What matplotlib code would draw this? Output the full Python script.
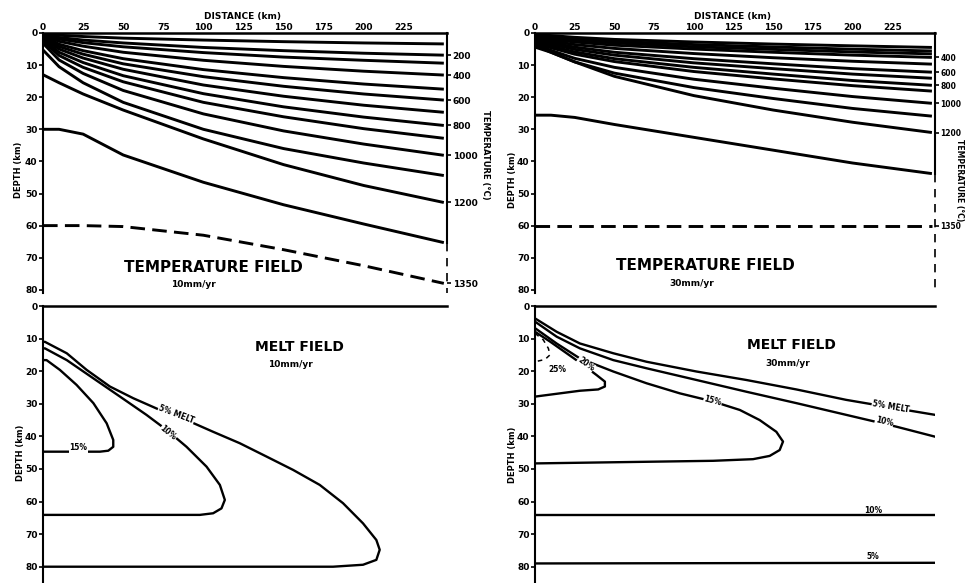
import matplotlib.pyplot as plt

plt.rcParams['font.family'] = ['DejaVu Sans']
plt.rcParams['font.weight'] = 'bold'

# distance from ridge axis (km) where isotherm depths were read
dist_km = [0, 10, 25, 50, 100, 150, 200, 250]
iso_temps = [100, 200, 300, 400, 500, 600, 700, 800, 900, 1000, 1100, 1200, 1300]

# isotherm depths (km), 10 mm/yr
iso_10 = [
    [0.2, 0.7, 1.1, 1.6, 2.2, 2.7, 3.1, 3.4],
    [0.4, 1.4, 2.2, 3.1, 4.5, 5.5, 6.3, 6.9],
    [0.6, 1.9, 3.0, 4.3, 6.1, 7.5, 8.5, 9.4],
    [0.8, 2.6, 4.1, 6.0, 8.5, 10.4, 11.9, 13.1],
    [1.0, 3.5, 5.5, 8.0, 11.4, 13.9, 15.9, 17.5],
    [1.3, 4.2, 6.6, 9.6, 13.6, 16.6, 19.0, 20.9],
    [1.6, 5.0, 7.8, 11.3, 16.2, 19.7, 22.5, 24.7],
    [2.0, 6.0, 9.2, 13.3, 18.9, 23.0, 26.2, 28.8],
    [2.5, 7.0, 10.7, 15.2, 21.6, 26.1, 29.8, 32.8],
    [3.2, 8.4, 12.6, 17.9, 25.2, 30.5, 34.6, 38.1],
    [5.3, 10.5, 15.5, 21.6, 30.0, 36.0, 40.5, 44.4],
    [13.0, 15.5, 19.0, 24.0, 33.0, 41.0, 47.5, 52.8],
    [30.0, 30.0, 31.5, 38.0, 46.5, 53.5, 59.5, 65.3],
]
solidus_10 = [60.0, 60.0, 60.0, 60.3, 63.0, 67.5, 72.5, 78.0]

# isotherm depths (km), 30 mm/yr
iso_30 = [
    [0.3, 0.8, 1.35, 2.0, 2.8, 3.45, 4.0, 4.5],
    [0.6, 1.2, 1.85, 2.6, 3.6, 4.35, 5.05, 5.6],
    [0.9, 1.6, 2.3, 3.1, 4.3, 5.1, 5.9, 6.5],
    [1.2, 2.0, 2.8, 3.8, 5.0, 6.0, 6.9, 7.6],
    [1.5, 2.5, 3.6, 4.8, 6.4, 7.7, 8.8, 9.7],
    [1.8, 3.0, 4.4, 6.0, 8.0, 9.6, 11.1, 12.2],
    [2.1, 3.5, 5.1, 6.9, 9.3, 11.1, 12.8, 14.1],
    [2.4, 4.1, 5.9, 8.0, 10.7, 12.8, 14.8, 16.3],
    [2.8, 4.6, 6.6, 8.9, 12.0, 14.3, 16.4, 18.1],
    [3.2, 5.4, 7.9, 10.7, 14.4, 17.2, 19.8, 21.9],
    [3.8, 6.0, 9.0, 12.5, 17.0, 20.4, 23.5, 25.9],
    [4.4, 6.0, 9.0, 13.5, 19.5, 24.0, 27.8, 31.0],
    [25.6, 25.6, 26.3, 28.5, 32.5, 36.5, 40.5, 43.8],
]
solidus_30 = [60.0, 60.0, 60.0, 60.0, 60.0, 60.0, 60.0, 60.0]

label_temps_10 = [200, 400, 600, 800, 1000, 1200]
label_temps_30 = [400, 600, 800, 1000, 1200]

# melt contours (distance km, depth km), 10 mm/yr
melt10_5 = [(0, 11.0), (1.2, 11.0), (14.8, 14.5), (27.2, 19.6), (41.7, 24.7), (56.3, 28.3),
            (72.9, 31.9), (89.5, 35.0), (106.1, 38.6), (122.7, 42.1), (139.4, 46.2),
            (156.0, 50.3), (172.6, 54.9), (187.1, 60.5), (199.6, 66.7), (207.9, 71.8),
            (210.0, 74.8), (207.9, 77.9), (199.6, 79.4), (180.9, 80.0), (0, 80.0)]
melt10_10 = [(0, 13.0), (1.2, 13.0), (14.8, 16.6), (31.4, 22.2), (48.0, 27.8), (64.5, 33.4),
             (77.0, 38.0), (89.5, 43.2), (102.0, 49.3), (110.3, 54.9), (113.4, 59.5),
             (111.3, 62.1), (106.1, 63.6), (97.8, 64.1), (0, 64.1)]
melt10_15 = [(0, 16.6), (2.2, 16.6), (10.5, 19.6), (20.9, 24.2), (31.4, 29.8), (39.7, 36.0),
             (43.8, 41.1), (43.8, 43.2), (40.7, 44.4), (35.5, 44.7), (0, 44.7)]

# melt contours, 30 mm/yr
melt30_5 = [(0, 3.8), (13.6, 7.9), (28.3, 11.5), (49.3, 14.5), (70.2, 17.1), (101.7, 20.1),
            (133.1, 22.7), (164.6, 25.6), (196.0, 28.8), (227.4, 31.4), (252.0, 33.4)]
melt30_10 = [(0, 4.8), (13.6, 9.4), (28.3, 13.0), (49.3, 16.6), (70.2, 19.1), (101.7, 22.7),
             (133.1, 26.3), (164.6, 29.8), (196.0, 33.4), (227.4, 37.0), (252.0, 40.1)]
melt30_15 = [(0, 6.8), (13.6, 11.5), (28.3, 16.1), (49.3, 20.1), (70.2, 23.7), (91.2, 26.8),
             (112.2, 29.3), (129.0, 31.9), (141.5, 35.0), (152.0, 38.6), (156.2, 41.6),
             (154.1, 44.2), (147.8, 46.0), (137.3, 47.0), (112.2, 47.5), (0, 48.3)]
melt30_20 = [(0, 7.9), (9.4, 10.9), (19.9, 14.5), (30.4, 18.1), (38.8, 21.2), (44.0, 23.2),
             (44.0, 24.7), (39.8, 25.6), (28.3, 26.0), (0, 27.8)]
melt30_25 = [(0, 8.4), (5.2, 10.4), (8.4, 13.0), (9.4, 15.0), (6.3, 16.4), (0, 17.1)]
melt30_10_base = [(0, 64.0), (252.0, 64.0)]
melt30_5_base = [(0, 79.0), (252.0, 78.8)]

xticks = [0, 25, 50, 75, 100, 125, 150, 175, 200, 225]
yticks = [0, 10, 20, 30, 40, 50, 60, 70, 80]
XMAX = 252

fig = plt.figure(figsize=(9.67, 5.83), dpi=100)
ax_tl = fig.add_axes([0.0445, 0.4974, 0.4178, 0.446])
ax_tr = fig.add_axes([0.5533, 0.4974, 0.4137, 0.446])
ax_bl = fig.add_axes([0.0445, 0.0, 0.4178, 0.4751])
ax_br = fig.add_axes([0.5533, 0.0, 0.4137, 0.4751])

TICKFS = 6.5


def temp_panel(ax, iso, solidus, label_temps, rate, tx, ty, sx, sy, rfs):
    for z in iso:
        ax.plot(dist_km, z, color='k', lw=2.1, solid_capstyle='butt')
    ax.plot(dist_km, solidus, color='k', lw=2.1, dashes=(5, 2.5))
    ax.set_xlim(0, XMAX)
    ax.set_ylim(81, 0)
    ax.xaxis.tick_top()
    ax.set_xticks(xticks)
    ax.set_xticklabels([str(v) for v in xticks], fontsize=TICKFS)
    ax.tick_params(axis='x', length=0, pad=1)
    ax.set_yticks(yticks)
    ax.set_yticklabels([str(v) for v in yticks], fontsize=TICKFS)
    ax.tick_params(axis='y', length=3, width=1.2, pad=1)
    for s in ['bottom', 'right']:
        ax.spines[s].set_visible(False)
    ax.spines['top'].set_linewidth(1.8)
    ax.spines['left'].set_linewidth(1.5)
    # right border: solid above the deepest solid isotherm, broken below
    z_end = iso[-1][-1]
    ax.plot([XMAX, XMAX], [0, z_end], color='k', lw=1.5, clip_on=False)
    ax.plot([XMAX, XMAX], [z_end, 81], color='k', lw=1.2, dashes=(5, 4), clip_on=False)

    ax2 = ax.twinx()
    ax2.set_ylim(81, 0)
    ends = [iso[iso_temps.index(t)][-1] for t in label_temps] + [solidus[-1]]
    ax2.set_yticks(ends)
    ax2.set_yticklabels([str(t) for t in label_temps] + ['1350'], fontsize=rfs)
    ax2.tick_params(axis='y', length=3, width=1.2, pad=1)
    for s in ax2.spines.values():
        s.set_visible(False)

    ax.text(tx, ty, 'TEMPERATURE FIELD', fontsize=11, ha='center', va='center')
    ax.text(sx, sy, rate, fontsize=6.5, ha='center', va='center')


def melt_panel(ax, curves, rate, tx, ty, sx, sy):
    for pts, dashed in curves:
        xs = [p[0] for p in pts]
        zs = [p[1] for p in pts]
        if dashed:
            ax.plot(xs, zs, color='k', lw=1.1, dashes=(3, 3))
        else:
            ax.plot(xs, zs, color='k', lw=1.7)
    ax.set_xlim(0, XMAX)
    ax.set_ylim(85, 0)
    ax.set_xticks([])
    ax.set_yticks(yticks)
    ax.set_yticklabels([str(v) for v in yticks], fontsize=TICKFS)
    ax.tick_params(axis='y', length=3, width=1.2, pad=1)
    for s in ['bottom', 'right']:
        ax.spines[s].set_visible(False)
    ax.spines['top'].set_linewidth(1.8)
    ax.spines['left'].set_linewidth(1.5)
    ax.text(tx, ty, 'MELT FIELD', fontsize=10, ha='center', va='center')
    ax.text(sx, sy, rate, fontsize=6.5, ha='center', va='center')


temp_panel(ax_tl, iso_10, solidus_10, label_temps_10, '10mm/yr', 106, 72.9, 93.5, 78.5, TICKFS)
temp_panel(ax_tr, iso_30, solidus_30, label_temps_30, '30mm/yr', 107, 72.3, 98.7, 77.9, 5.5)

melt_panel(ax_bl, [(melt10_5, False), (melt10_10, False), (melt10_15, False)],
           '10mm/yr', 160, 12.6, 154.5, 18.1)
melt_panel(ax_br, [(melt30_5, False), (melt30_10, False), (melt30_15, False),
                   (melt30_20, False), (melt30_25, True),
                   (melt30_10_base, False), (melt30_5_base, False)],
           '30mm/yr', 161.6, 12.0, 159, 17.5)

box = dict(fc='white', ec='none', pad=0.3)
lab = dict(fontsize=5.5, ha='center', va='center', bbox=box)
ax_bl.text(83, 33.4, '5% MELT', rotation=-21, **lab)
ax_bl.text(78, 39.0, '10%', rotation=-39, **lab)
ax_bl.text(22, 43.5, '15%', **lab)
ax_br.text(224, 30.8, '5% MELT', rotation=-10, **lab)
ax_br.text(220, 35.5, '10%', rotation=-14, **lab)
ax_br.text(112, 29.0, '15%', rotation=-15, **lab)
ax_br.text(32, 17.8, '20%', rotation=-36, **lab)
ax_br.text(14, 19.5, '25%', fontsize=5.5, ha='center', va='center')
ax_br.text(213, 62.8, '10%', fontsize=5.5, ha='center', va='center')
ax_br.text(213, 77.0, '5%', fontsize=5.5, ha='center', va='center')

# axis titles placed like the original figure
fig.text(243 / 967, 1 - 17 / 583, 'DISTANCE (km)', fontsize=6.5, ha='center', va='center')
fig.text(733 / 967, 1 - 17 / 583, 'DISTANCE (km)', fontsize=6.5, ha='center', va='center')
for x, y in [(18, 170), (512, 180), (20, 453), (512, 455)]:
    fig.text(x / 967, 1 - y / 583, 'DEPTH (km)', fontsize=6, rotation=90,
             ha='center', va='center')
fig.text(485 / 967, 1 - 155 / 583, 'TEMPERATURE (°C)', fontsize=6, rotation=-90,
         ha='center', va='center')
fig.text(960 / 967, 1 - 180 / 583, 'TEMPERATURE (°C)', fontsize=5.5, rotation=-90,
         ha='center', va='center')

fig.savefig('out.png', dpi=100)
